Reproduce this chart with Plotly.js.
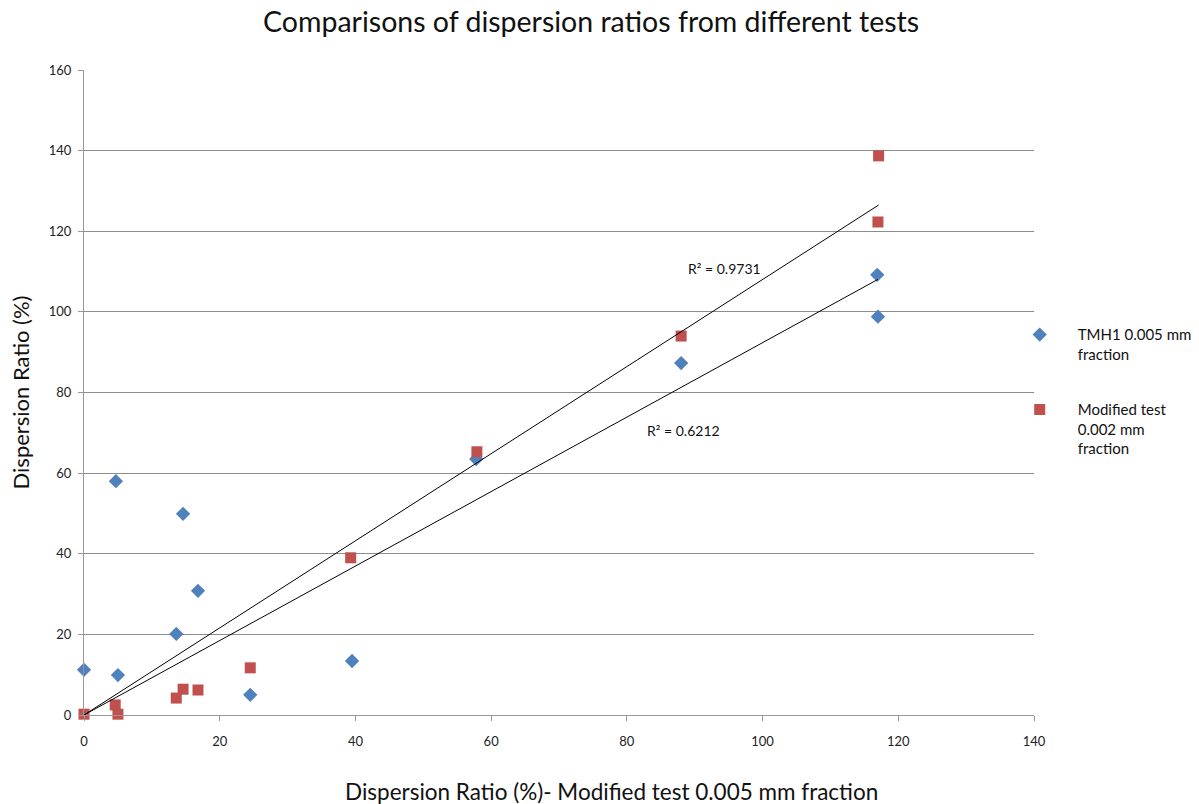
<!DOCTYPE html>
<html>
<head>
<meta charset="utf-8">
<script src="https://cdn.plot.ly/plotly-3.0.1.min.js"></script>
<style>html,body{margin:0;padding:0;background:#fff;}#chart{width:1199px;height:804px;}</style>
</head>
<body>
<div id="chart"></div>
<script>
// Data
const tmhX = [0, 4.7, 5.0, 13.6, 14.6, 16.8, 24.5, 39.5, 57.8, 88.0, 116.9, 117.0];
const tmhY = [11.2, 58.0, 9.9, 20.1, 49.9, 30.8, 5.0, 13.4, 63.5, 87.3, 109.2, 98.8];
const modX = [0, 4.6, 5.0, 13.6, 14.6, 16.8, 24.5, 39.3, 57.9, 88.0, 117.0, 117.1];
const modY = [0.2, 2.5, 0.2, 4.2, 6.4, 6.2, 11.7, 39.0, 65.3, 94.0, 122.3, 138.7];
const seriesNames = ["TMH1 0.005 mm<br>fraction", "Modified test<br>0.002 mm<br>fraction"];
const r2Labels = ["R² = 0.6212", "R² = 0.9731"];
const xTitle = "Dispersion Ratio (%)- Modified test 0.005 mm fraction";

// Linear trendline through origin (least squares), like the spreadsheet trendline
function originFit(xs, ys) {
  let sxy = 0, sxx = 0;
  for (let i = 0; i < xs.length; i++) { sxy += xs[i] * ys[i]; sxx += xs[i] * xs[i]; }
  const k = sxy / sxx;
  const xmax = Math.max(...xs);
  return { x: [0, xmax], y: [0, k * xmax] };
}
const fitT = originFit(tmhX, tmhY);
const fitM = originFit(modX, modY);

const font = "Lato, 'Open Sans', sans-serif";

const traces = [
  { x: tmhX, y: tmhY, mode: "markers", type: "scatter", name: seriesNames[0], legendgroup: "a",
    marker: { symbol: "diamond", size: 11, color: "#4F81BD" }, cliponaxis: false },
  { x: modX, y: modY, mode: "markers", type: "scatter", name: seriesNames[1], legendgroup: "b",
    marker: { symbol: "square", size: 11, color: "#C0504D" }, cliponaxis: false },
  { x: fitT.x, y: fitT.y, mode: "lines", type: "scatter", showlegend: false,
    line: { color: "#000", width: 1 }, hoverinfo: "skip" },
  { x: fitM.x, y: fitM.y, mode: "lines", type: "scatter", showlegend: false,
    line: { color: "#000", width: 1 }, hoverinfo: "skip" }
];

const layout = {
  width: 1199, height: 804,
  margin: { l: 84, r: 165, t: 70, b: 89, autoexpand: false },
  paper_bgcolor: "#fff", plot_bgcolor: "#fff",
  font: { family: font, color: "#222", size: 12 },
  title: { text: "Comparisons of dispersion ratios from different tests",
    font: { family: font, size: 28.5, color: "#111" }, x: 0.493, xanchor: "center", y: 0.972, yanchor: "middle" },
  xaxis: {
    range: [0, 140], dtick: 20, showgrid: false, zeroline: false,
    showline: true, linecolor: "#999", linewidth: 1,
    ticks: "outside", ticklen: 5, tickcolor: "#999", ticklabelstandoff: 9,
    tickfont: { size: 13, color: "#222" }
  },
  yaxis: {
    range: [0, 160], dtick: 20, showgrid: true, gridcolor: "#8c8c8c", gridwidth: 1,
    zeroline: false, showline: true, linecolor: "#999", linewidth: 1,
    ticks: "outside", ticklen: 5, tickcolor: "#999", ticklabelstandoff: 4,
    tickfont: { size: 13, color: "#222" },
    title: { text: "Dispersion Ratio (%)", font: { size: 22, color: "#111" }, standoff: 13 }
  },
  legend: { x: 0.966, y: 0.615, xanchor: "left", yanchor: "top", valign: "top",
    font: { size: 15, color: "#111" }, tracegroupgap: 33, itemwidth: 66, bgcolor: "rgba(0,0,0,0)" },
  showlegend: true,
  annotations: [
    { x: 0.555, y: -0.119, xref: "paper", yref: "paper", text: xTitle, showarrow: false,
      xanchor: "center", yanchor: "middle", font: { size: 22.5, color: "#111" } },
    { x: 88.3, y: 70.5, xref: "x", yref: "y", text: r2Labels[0], showarrow: false,
      font: { size: 14, color: "#111" } },
    { x: 94.4, y: 110.7, xref: "x", yref: "y", text: r2Labels[1], showarrow: false,
      font: { size: 14, color: "#111" } }
  ]
};

Plotly.newPlot("chart", traces, layout, { displayModeBar: false, staticPlot: true });
</script>
</body>
</html>
